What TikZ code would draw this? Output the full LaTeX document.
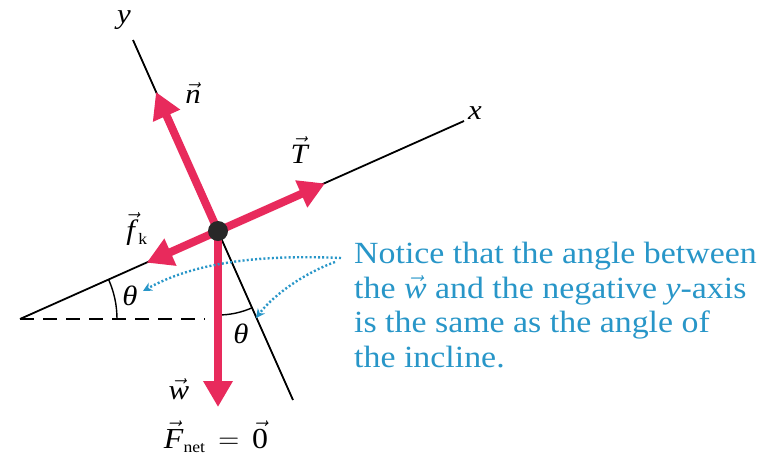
\RequirePackage{fix-cm}
\documentclass[tikz,border=0pt]{standalone}
\usepackage{fontspec}
\setmainfont{Liberation Serif}[FakeStretch=1.1]
\usetikzlibrary{arrows.meta}
\definecolor{vecred}{RGB}{232,42,92}
\definecolor{noteblue}{RGB}{40,150,200}
\definecolor{dotgray}{RGB}{40,40,40}
\newcommand\vv[1]{\ensuremath{\vec{\mbox{\textit{#1}}}}}
\begin{document}
\begin{tikzpicture}[x=1pt,y=-1pt,
  axisline/.style={line width=1.8pt,black},
  force/.style={line width=8pt,vecred,-{Triangle[length=26pt,width=28pt]}},
  note/.style={noteblue,line width=2.4pt,dash pattern=on 2pt off 2.2pt,-{Stealth[length=9pt,width=9pt]}},
  lab/.style={font=\fontsize{28}{30}\selectfont,inner sep=0pt},
  notetext/.style={font=\fontsize{30.8}{34.5}\selectfont,text=noteblue,align=left,inner sep=0pt,anchor=north west}]
\useasboundingbox (0,0) rectangle (762,459);
% key points
\coordinate (O) at (218,231);
\coordinate (inL) at (20,319);
\coordinate (inR) at (464,121);
\coordinate (yT) at (133,40);
\coordinate (yB) at (293,400);
\coordinate (hE) at (205,319);
\coordinate (nT) at (156,92);
\coordinate (TT) at (325,183.4);
\coordinate (fT) at (146.7,262.7);
\coordinate (wT) at (218,407);
% axes and incline
\draw[axisline] (inL) -- (inR);
\draw[axisline] (yT) -- (yB);
\draw[line width=1.6pt,dash pattern=on 14pt off 9pt] (inL) -- (hE);
% angle arcs
\draw[line width=1.4pt] ([xshift=97pt]inL) arc[start angle=0,end angle=24,radius=97pt];
\draw[line width=1.4pt] ([yshift=-84pt]O) arc[start angle=270,end angle=294,radius=84pt];
% forces
\draw[force] (O) -- (nT);
\draw[force] (O) -- (TT);
\draw[force] (O) -- (fT);
\draw[force] (O) -- (wT);
\fill[dotgray] (O) circle (10pt);
% labels
\node[lab] (ylab) at (124,20) {\textit{y}};
\node[lab] (xlab) at (475,113) {\textit{x}};
\node[lab] (nlab) at (193,93) {\vv{n}};
\node[lab] (Tlab) at (300,150) {\vv{T}};
\node[lab] (flab) at (137,229) {\vv{f}$_{\mbox{\fontsize{16}{16}\selectfont k}}$};
\node[lab] (th1) at (130,296) {\textit{θ}};
\node[lab] (th2) at (241,334) {\textit{θ}};
\node[lab] (wlab) at (179,389) {\vv{w}};
\node[lab,font=\fontsize{29}{30}\selectfont] (Flab) at (216,437) {\vv{F}$_{\mbox{\fontsize{16}{16}\selectfont net}}\,=\,\vec{\mbox{0}}$};
% note
\node[notetext] (note) at (354,242) {Notice that the angle between\\the \vv{w} and the negative \textit{y}-axis\\is the same as the angle of\\the incline.};
\coordinate (s1) at (341,258);
\coordinate (s2) at (335,262);
\coordinate (e1) at (143,291);
\coordinate (e2) at (256,318);
\draw[note] (s1) .. controls (250,254) and (190,265) .. (e1);
\draw[note] (s2) .. controls (300,275) and (272,297) .. (e2);
\end{tikzpicture}
\end{document}
